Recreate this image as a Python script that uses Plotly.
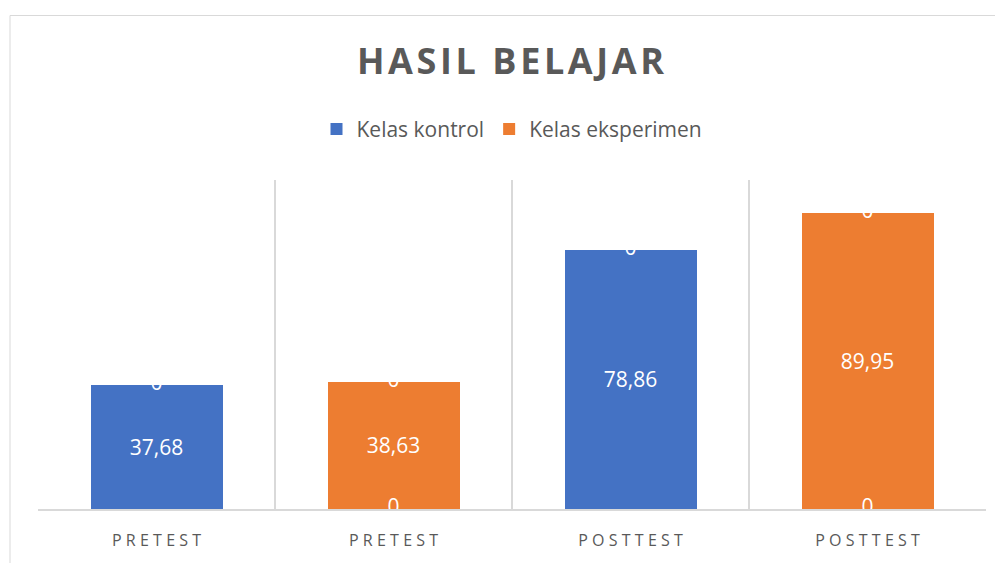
import plotly.graph_objects as go

categories = ["PRETEST", "PRETEST", "POSTTEST", "POSTTEST"]
kontrol = [37.68, 0, 78.86, 0]
eksperimen = [0, 38.63, 0, 89.95]
title_text = "HASIL BELAJAR"

BLUE = "#4472C4"
ORANGE = "#ED7D31"
GRAY = "#595959"
FONT = "Open Sans"

x = list(range(len(categories)))
totals = [a + b for a, b in zip(kontrol, eksperimen)]

def spaced(s, sep="\u2009\u200a"):
    return sep.join(list(s))

def fmt(v):
    return f"{v:.2f}".replace(".", ",") if v else ""

LBL = dict(color="white", size=21, family=FONT)

fig = go.Figure()
fig.add_trace(go.Bar(
    x=x, y=kontrol, name="Kelas kontrol", marker=dict(color=BLUE, line=dict(width=0)),
    width=0.557, text=[fmt(v) for v in kontrol],
    textposition="inside", insidetextanchor="middle", textfont=LBL,
))
fig.add_trace(go.Bar(
    x=x, y=eksperimen, name="Kelas eksperimen", marker=dict(color=ORANGE, line=dict(width=0)),
    width=0.557, text=[fmt(v) for v in eksperimen],
    textposition="inside", insidetextanchor="middle", textfont=LBL,
))
# zero-valued series labels (white, at top of each stack and at base of orange bars)
fig.add_trace(go.Scatter(
    x=x, y=totals, mode="text", text=["0"] * len(x), textposition="middle center",
    textfont=LBL, showlegend=False, hoverinfo="skip", cliponaxis=True,
))
zx = [i for i, v in enumerate(kontrol) if v == 0]
fig.add_trace(go.Scatter(
    x=zx, y=[kontrol[i] for i in zx], mode="text", text=["0"] * len(zx),
    textposition="middle center", textfont=LBL, showlegend=False, hoverinfo="skip",
    cliponaxis=True,
))

# the page body adds an 8px offset; figure is sized so the plot lands where the reference has it
fig.update_layout(
    width=995, height=555,
    barmode="stack",
    separators=",.",
    paper_bgcolor="white", plot_bgcolor="white",
    margin=dict(l=30, r=17, t=172, b=50),
    title=dict(text="<b>" + spaced(title_text, "\u200a") + "</b>", x=0.505, xanchor="center",
               y=1 - 53 / 555, yanchor="middle",
               font=dict(family=FONT, size=36, color=GRAY)),
    legend=dict(orientation="h", x=0.5, xanchor="center", y=1.154, yanchor="middle",
                font=dict(family=FONT, size=21, color=GRAY), itemwidth=30,
                traceorder="normal"),
    showlegend=True,
    xaxis=dict(
        range=[-0.5, 3.5], tickvals=x, ticktext=[spaced(c) for c in categories],
        tickfont=dict(family=FONT, size=16, color=GRAY),
        showgrid=False, showline=True, linecolor="#D9D9D9", linewidth=1.5,
        ticks="", zeroline=False, ticklabelstandoff=16,
        minor=dict(tickvals=[-0.5, 0.5, 1.5, 2.5, 3.5], showgrid=True,
                   gridcolor="#D9D9D9", gridwidth=1.5),
    ),
    yaxis=dict(range=[0, 100], showgrid=False, showticklabels=False, zeroline=False,
               showline=False),
    shapes=[dict(type="rect", xref="paper", yref="paper",
                 x0=-28 / 948, x1=1.2, y0=-1, y1=(512 - 14) / 332,
                 line=dict(color="#D9D9D9", width=1), fillcolor="rgba(0,0,0,0)", layer="below")],
)

fig.write_html("out.html")
